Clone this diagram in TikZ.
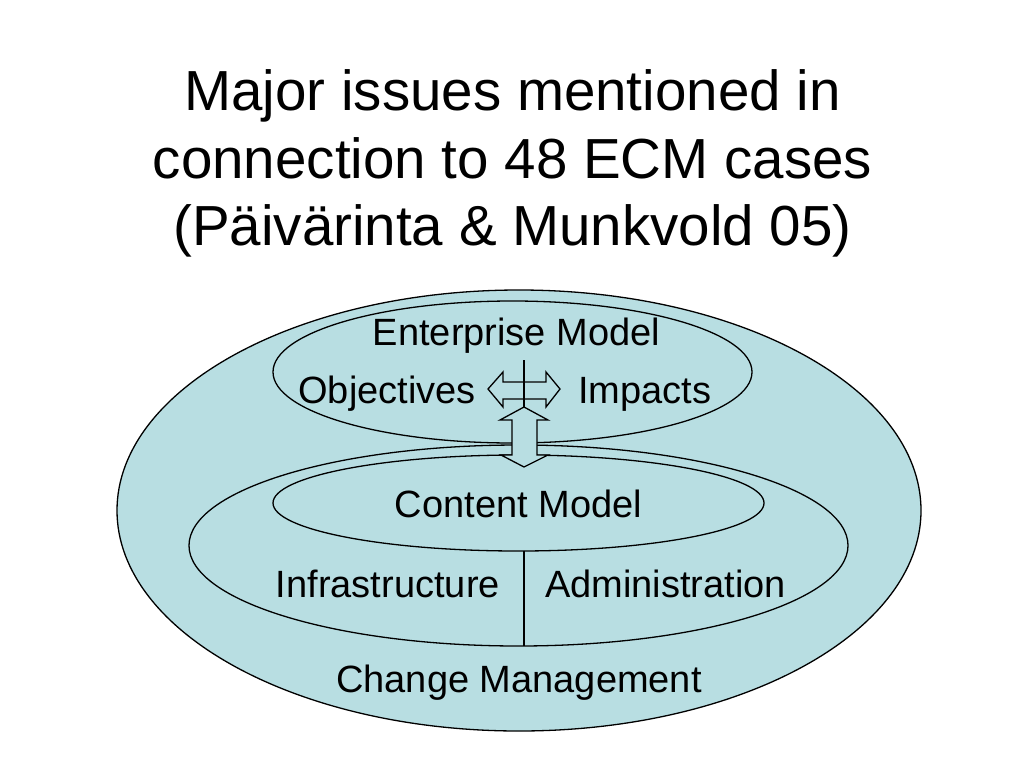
\documentclass[tikz,border=0pt]{standalone}
\usepackage{fontspec}
\setmainfont{Liberation Sans}
\usetikzlibrary{shapes.geometric}
\definecolor{fillblue}{HTML}{B8DEE2}
\begin{document}
\begin{tikzpicture}[x=1pt,y=-1pt,
  ring/.style={ellipse, draw=black, line width=1.3pt, fill=fillblue, inner sep=0pt},
  title/.style={font=\fontsize{56.5}{67.5}\selectfont, anchor=base, inner sep=0pt},
  label/.style={font=\fontsize{38}{45}\selectfont, anchor=base, inner sep=0pt},
  fatarrow/.style={draw=black, line width=1.3pt, fill=fillblue, line join=miter}]
\useasboundingbox[fill=white] (0,0) rectangle (1024,768);
% title
\node[title] (t1) at (512.5,110.5) {Major issues mentioned in};
\node[title] (t2) at (512.5,178) {connection to 48 ECM cases};
\node[title] (t3) at (512.5,245.5) {(Päivärinta \& Munkvold 05)};
% ellipses
\node[ring, minimum width=804pt, minimum height=441pt] (outer) at (519,510.5) {};
\node[ring, minimum width=479pt, minimum height=142pt] (enterprise) at (512.5,372) {};
\node[ring, minimum width=659pt, minimum height=201pt] (middle) at (518.5,545.5) {};
\node[ring, minimum width=491pt, minimum height=96pt] (content) at (518.5,503) {};
% divider
\coordinate (dtop) at (524,550.6);
\coordinate (dbot) at (524,646);
\draw[line width=1.3pt] (dtop) -- (dbot);
% labels
\node[label] (em) at (516.5,345) {Enterprise Model};
\node[label, anchor=base east] (obj) at (476,403) {Objectives};
\node[label, anchor=base west] (imp) at (578,403) {Impacts};
\node[label] (cm) at (518.5,517) {Content Model};
\node[label, anchor=base east] (inf) at (500,597) {Infrastructure};
\node[label, anchor=base west] (adm) at (545,597) {Administration};
\node[label] (chg) at (519,692) {Change Management};
% vertical double arrow
\draw[fatarrow] (524,407) -- (548,420) -- (537,420) -- (537,455) -- (548,455)
  -- (524,467) -- (501,455) -- (512,455) -- (512,420) -- (500,420) -- cycle;
% horizontal double arrow
\draw[fatarrow] (488,389) -- (503,372) -- (503,382) -- (546,382) -- (546,372)
  -- (560,389) -- (546,407) -- (546,399) -- (503,399) -- (503,407) -- cycle;
\coordinate (vtop) at (524,360);
\coordinate (vbot) at (524,407);
\draw[line width=1.3pt] (vtop) -- (vbot);
\end{tikzpicture}
\end{document}
